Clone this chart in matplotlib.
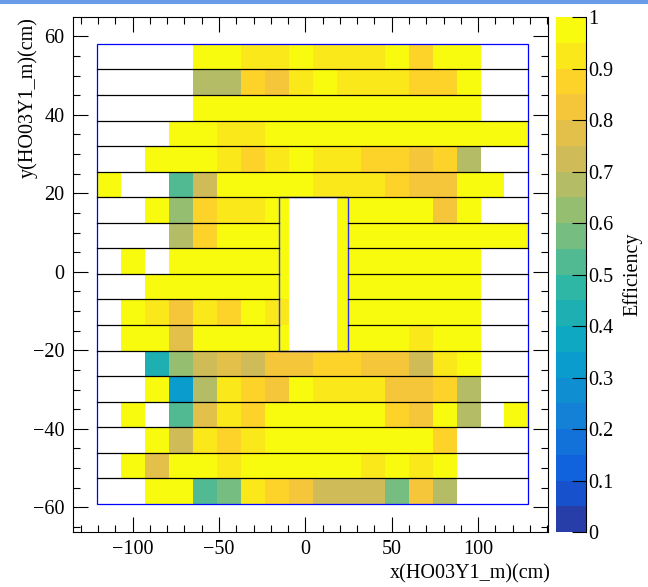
import numpy as np
import matplotlib
matplotlib.use("Agg")
import matplotlib.pyplot as plt
from matplotlib.colors import ListedColormap, LinearSegmentedColormap, BoundaryNorm
from matplotlib.patches import Rectangle

plt.rcParams['font.family'] = ['Liberation Serif', 'DejaVu Serif']

n = np.nan

# Efficiency per tile, top row first (18 rows x 18 columns), nan = no tile
row00 = [n, n, n, n, .97, .97, .92, .92, .97, .92, .92, .92, .97, .87, .97, .97, n, n]
row01 = [n, n, n, n, .67, .67, .87, .82, .92, .97, .92, .92, .92, .87, .87, .97, n, n]
row02 = [n, n, n, n, .97, .97, .97, .97, .97, .97, .97, .97, .97, .97, .97, .97, n, n]
row03 = [n, n, n, .97, .97, .92, .92, .97, .97, .97, .97, .97, .97, .97, .97, .97, .97, .97]
row04 = [n, n, .97, .97, .97, .92, .87, .92, .97, .92, .92, .87, .87, .82, .87, .67, n, n]
row05 = [.97, n, n, .52, .72, .97, .97, .97, .97, .92, .92, .92, .87, .82, .82, .97, .97, n]
row06 = [n, n, .97, .62, .87, .92, .92, .97, n, n, .97, .97, .97, .97, .82, .97, n, n]
row07 = [n, n, n, .67, .87, .97, .97, .97, n, n, .97, .97, .97, .97, .97, .97, .97, .97]
row08 = [n, .97, n, .97, .97, .97, .97, .97, n, n, .97, .97, .97, .97, .97, .97, n, n]
row09 = [n, n, .97, .97, .97, .97, .97, .97, n, n, .97, .97, .97, .97, .97, .97, n, n]
row10 = [n, .97, .92, .82, .92, .87, .97, .92, n, n, .97, .97, .97, .97, .97, .97, n, n]
row11 = [n, .97, .97, .77, .97, .97, .97, .97, n, n, .97, .97, .97, .92, .97, .97, n, n]
row12 = [n, n, .42, .62, .72, .77, .72, .82, .82, .87, .87, .82, .82, .72, .92, .97, n, n]
row13 = [n, n, .97, .32, .67, .92, .87, .82, .97, .92, .92, .92, .82, .82, .87, .67, n, n]
row14 = [n, .97, n, .52, .77, .92, .87, .97, .97, .97, .97, .97, .87, .82, .97, .67, n, .97]
row15 = [n, n, .97, .72, .92, .87, .92, .97, .97, .97, .97, .97, .97, .97, .87, n, n, n]
row16 = [n, .97, .77, .97, .97, .92, .97, .97, .97, .97, .97, .92, .97, .92, .97, n, n, n]
row17 = [n, n, .97, .97, .52, .57, .92, .87, .82, .72, .72, .72, .57, .82, .67, n, n, n]

eff = np.array([row00, row01, row02, row03, row04, row05, row06, row07, row08,
                row09, row10, row11, row12, row13, row14, row15, row16, row17])

# tile grid (cm)
x_first, x_step = -120.5, 13.87
y_top, y_step = 58.05, 6.51
hole_x = (-15.4, 24.45)
hole_rows = (6, 12)

x_edges = x_first + x_step * np.arange(eff.shape[1] + 1)
y_edges = y_top - y_step * np.arange(eff.shape[0] + 1)

# ROOT kBird palette, 20 contour levels
stops = [0.0, 0.125, 0.25, 0.375, 0.5, 0.625, 0.75, 0.875, 1.0]
red = [0.2082, 0.0592, 0.0780, 0.0232, 0.1802, 0.5301, 0.8186, 0.9956, 0.9764]
green = [0.1664, 0.3599, 0.5041, 0.6419, 0.7178, 0.7492, 0.7328, 0.7862, 0.9832]
blue = [0.5293, 0.8684, 0.8385, 0.7914, 0.6425, 0.4662, 0.3499, 0.1968, 0.0539]
bird = LinearSegmentedColormap.from_list(
    "bird", [(s, (r, g, b)) for s, r, g, b in zip(stops, red, green, blue)])
nlev = 20
cmap = ListedColormap([bird((i + 0.99) / nlev) for i in range(nlev)])
norm = BoundaryNorm(np.linspace(0, 1, nlev + 1), nlev)

fig = plt.figure(figsize=(6.48, 5.87), dpi=100)
ax = fig.add_axes([0.1127, 0.0937, 0.7330, 0.8773])

mesh = ax.pcolormesh(x_edges, y_edges, np.ma.masked_invalid(eff), cmap=cmap, norm=norm,
                     shading='flat', antialiased=False, linewidth=0)

# tile separators
for k, y in enumerate(y_edges[1:-1], start=1):
    if hole_rows[0] < k < hole_rows[1]:
        ax.plot([x_edges[0], hole_x[0]], [y, y], color='black', lw=0.9)
        ax.plot([hole_x[1], x_edges[-1]], [y, y], color='black', lw=0.9)
    else:
        ax.plot([x_edges[0], x_edges[-1]], [y, y], color='black', lw=0.9)

ax.add_patch(Rectangle((x_edges[0], y_edges[-1]), x_edges[-1] - x_edges[0],
                       y_edges[0] - y_edges[-1], fill=False, edgecolor='blue', lw=0.9))
ax.add_patch(Rectangle((hole_x[0], y_edges[hole_rows[1]]), hole_x[1] - hole_x[0],
                       y_edges[hole_rows[0]] - y_edges[hole_rows[1]], fill=False,
                       edgecolor='#3030ff', lw=1.0))

ax.set_xlim(-134.5, 140.5)
ax.set_ylim(-66.3, 64.9)
ax.set_xticks([-100, -50, 0, 50, 100])
ax.set_xticks(np.arange(-130, 141, 10), minor=True)
ax.set_yticks([-60, -40, -20, 0, 20, 40, 60])
ax.set_yticks(np.arange(-65, 65, 5), minor=True)
ax.tick_params(which='both', direction='in', top=True, right=True, labelsize=14.5, width=0.8)
ax.tick_params(which='major', length=10.5, pad=6)
ax.tick_params(which='minor', length=5)
for s in ax.spines.values():
    s.set_linewidth(0.8)

ax.set_xlabel('x(HO03Y1_m)(cm)', fontsize=14.5, loc='right')
ax.set_ylabel('y(HO03Y1_m)(cm)', fontsize=14.5, loc='top')
ax.xaxis.set_label_coords(1.006, -0.062)
ax.yaxis.set_label_coords(-0.074, 1.0)

cax = fig.add_axes([0.858, 0.0937, 0.046, 0.8773])
cb = fig.colorbar(mesh, cax=cax, ticks=np.linspace(0, 1, 11))
cb.ax.set_yticklabels(['0', '0.1', '0.2', '0.3', '0.4', '0.5', '0.6', '0.7', '0.8', '0.9', '1'])
cb.minorticks_off()
cb.outline.set_visible(False)
cax.spines['right'].set_visible(True)
cax.tick_params(direction='in', length=10, width=0.8, labelsize=14.5, pad=2)
cb.set_label('Efficiency', fontsize=14.5, labelpad=6)

fig.add_artist(Rectangle((0, 1 - 4 / 587), 1, 4 / 587, transform=fig.transFigure,
                         color='#6a9be8', lw=0))

fig.savefig('out.png', dpi=100)
